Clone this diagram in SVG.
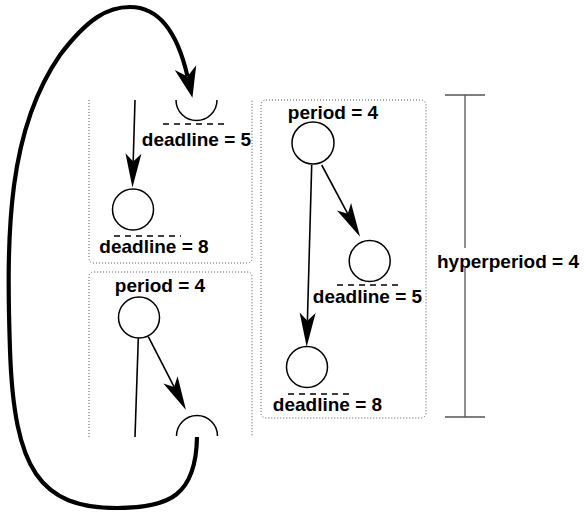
<svg xmlns="http://www.w3.org/2000/svg" width="585" height="512" viewBox="0 0 585 512">
<style>
.box{fill:none;stroke:#555;stroke-width:1;stroke-dasharray:1 2}
.node{fill:#fff;stroke:#000;stroke-width:1.5}
.half{fill:none;stroke:#000;stroke-width:1.5}
.dl{stroke:#000;stroke-width:1.5;stroke-dasharray:6 5}
.lbl{font-family:"Liberation Sans",Arial,sans-serif;font-weight:bold;font-size:19px;fill:#000;text-anchor:middle}
.edge{fill:none;stroke:#000;stroke-width:1.6}
.thick{fill:none;stroke:#000;stroke-width:4.2}
.hp{stroke:#555;stroke-width:1.3;fill:none}
</style>
<defs>
<marker id="a" markerUnits="userSpaceOnUse" viewBox="-10 -10 40 20" refX="0" refY="0" markerWidth="40" markerHeight="20" orient="auto">
<path d="M-8,-8 L26,0 L-8,8 L0,0 Z" fill="#000"/>
</marker>
<marker id="b" markerUnits="userSpaceOnUse" viewBox="-10 -13 40 26" refX="0" refY="0" markerWidth="40" markerHeight="26" orient="auto">
<path d="M-9,-11 L22,0 L-9,11 L0,0 Z" fill="#000"/>
</marker>
</defs>

<g id="boxA"><path class="box" d="M89,100 V258 Q89,263 94,263 H247 Q252,263 252,258 V100"/></g>
<g id="boxB"><path class="box" d="M89,437 V277 Q89,272 94,272 H247 Q252,272 252,277 V437"/></g>
<g id="boxC"><rect class="box" x="261" y="100" width="165" height="318" rx="5"/></g>

<g id="connectors">
<path class="edge" d="M135,100 L133.2,161.5" marker-end="url(#a)"/>
<path class="edge" d="M148.3,336.7 L174.1,386.9" marker-end="url(#a)"/>
<path class="edge" d="M138.3,338.3 L135,437"/>
<path class="edge" d="M321.7,165 L347.8,213.8" marker-end="url(#a)"/>
<path class="edge" d="M311.7,165 L307.4,320.7" marker-end="url(#a)"/>
<path class="thick" d="M197,437 C196,495 170,508 117,508 C40,508 14,470 10,350 C6,230 8,130 60,55 C88,18 108,7 130,7 C160,7 178,35 187.5,76.4" marker-end="url(#b)"/>
</g>

<g id="nodeA1"><path class="half" d="M176,100 A20.5,20.5 0 0 0 217,100"/><line class="dl" x1="163" y1="124" x2="229" y2="124"/><text class="lbl" x="196.5" y="146">deadline = 5</text></g>
<g id="nodeA2"><circle class="node" cx="133" cy="209.5" r="20.5"/><line class="dl" x1="114" y1="236" x2="181" y2="236"/><text class="lbl" x="154" y="253">deadline = 8</text></g>
<g id="nodeB1"><circle class="node" cx="139" cy="317.5" r="20.5"/><text class="lbl" x="160" y="292">period = 4</text></g>
<g id="nodeB2"><path class="half" d="M176.5,436 A20.5,20.5 0 0 1 217.5,436"/></g>
<g id="nodeC1"><circle class="node" cx="313" cy="143" r="21"/><text class="lbl" x="333" y="119">period = 4</text></g>
<g id="nodeC2"><circle class="node" cx="369.7" cy="261" r="20.5"/><line class="dl" x1="337" y1="285" x2="403" y2="285"/><text class="lbl" x="367.5" y="303">deadline = 5</text></g>
<g id="nodeC3"><circle class="node" cx="307" cy="367" r="20.5"/><line class="dl" x1="288" y1="394" x2="354" y2="394"/><text class="lbl" x="327.5" y="410.7">deadline = 8</text></g>

<g id="hyperperiod">
<path class="hp" d="M445,95 H485 M465,95 V248 M465,268 V417 M445,417 H485"/>
<text class="lbl" x="508" y="268">hyperperiod = 4</text>
</g>
</svg>
